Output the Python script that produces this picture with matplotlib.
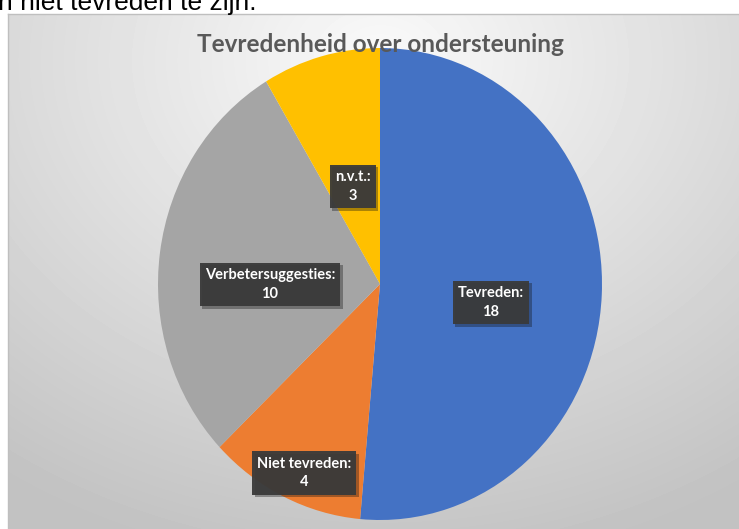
import numpy as np
import matplotlib.pyplot as plt
from matplotlib import patheffects as pe

# Data
labels = ['Tevreden', 'Niet tevreden', 'Verbetersuggesties', 'n.v.t.']
values = [18, 4, 10, 3]
colors = ['#4472C4', '#ED7D31', '#A5A5A5', '#FFC000']
label_dist = [0.5, 0.87, 0.5, 0.43]  # where each data label sits along its wedge
label_nudge = [(0, -13), (8, -4), (0, -16), (-2, 0)]  # small shifts in pixels

title = 'Tevredenheid over ondersteuning'
top_text = 'n niet tevreden te zijn.'

W, H = 739, 529
fig = plt.figure(figsize=(W / 100, H / 100), dpi=100)

# text of the document above the chart (cut off at the top)
fig.text(-2 / W, 1 - 10 / H, top_text, fontsize=19, family='Liberation Sans',
         color='black', va='baseline', ha='left')

# chart area with radial gradient background
x0, y0 = 8, 14
bg = fig.add_axes([x0 / W, 0, 1 - x0 / W, 1 - y0 / H])
xx, yy = np.meshgrid(np.arange(x0, W), np.arange(y0, H))
d = np.sqrt(((xx - 380) * 0.8) ** 2 + (yy - 60) ** 2)
shade = np.clip(0.98 - 0.00043 * d, 0.76, 1.0)
bg.imshow(shade, cmap='gray', vmin=0, vmax=1, aspect='auto',
          extent=[0, 1, 0, 1], interpolation='bilinear')
bg.set_xlim(0, 1)
bg.set_ylim(0, 1)
bg.set_xticks([])
bg.set_yticks([])
for side in ['right', 'bottom']:
    bg.spines[side].set_visible(False)
for side in ['top', 'left']:
    bg.spines[side].set_color('#BFBFBF')
    bg.spines[side].set_linewidth(1)

# pie (slightly stretched vertically, like the reference)
cx, cy, rx, ry = 380, 284, 222, 236
ax = fig.add_axes([(cx - rx) / W, (H - cy - ry) / H, 2 * rx / W, 2 * ry / H])
ax.patch.set_visible(False)
wedges, _ = ax.pie(values, colors=colors, startangle=90, counterclock=False,
                   radius=1, wedgeprops=dict(linewidth=0))
ax.set_aspect('auto')
ax.set_xlim(-1, 1)
ax.set_ylim(-1, 1)

for w, lab, val, dist, nudge in zip(wedges, labels, values, label_dist, label_nudge):
    ang = np.deg2rad((w.theta1 + w.theta2) / 2)
    t = ax.annotate(f'{lab}:\n{val}', (dist * np.cos(ang), dist * np.sin(ang)),
                    xytext=(nudge[0] * 0.72, nudge[1] * 0.72),
                    textcoords='offset points',
                    ha='center', va='center', color='white', fontsize=10.5,
                    fontweight='bold', family='Lato', linespacing=1.45,
                    bbox=dict(boxstyle='square,pad=0.35', facecolor='#3A3A3A',
                              edgecolor='none', alpha=0.95))
    t.get_bbox_patch().set_path_effects([
        pe.SimplePatchShadow(offset=(2, -2), alpha=0.35), pe.Normal()])

fig.text(380 / W, 1 - 45 / H, title, ha='center', va='center', fontsize=17.5,
         fontweight='bold', family='Lato', color='#595959')

fig.savefig('out.png', dpi=100)
